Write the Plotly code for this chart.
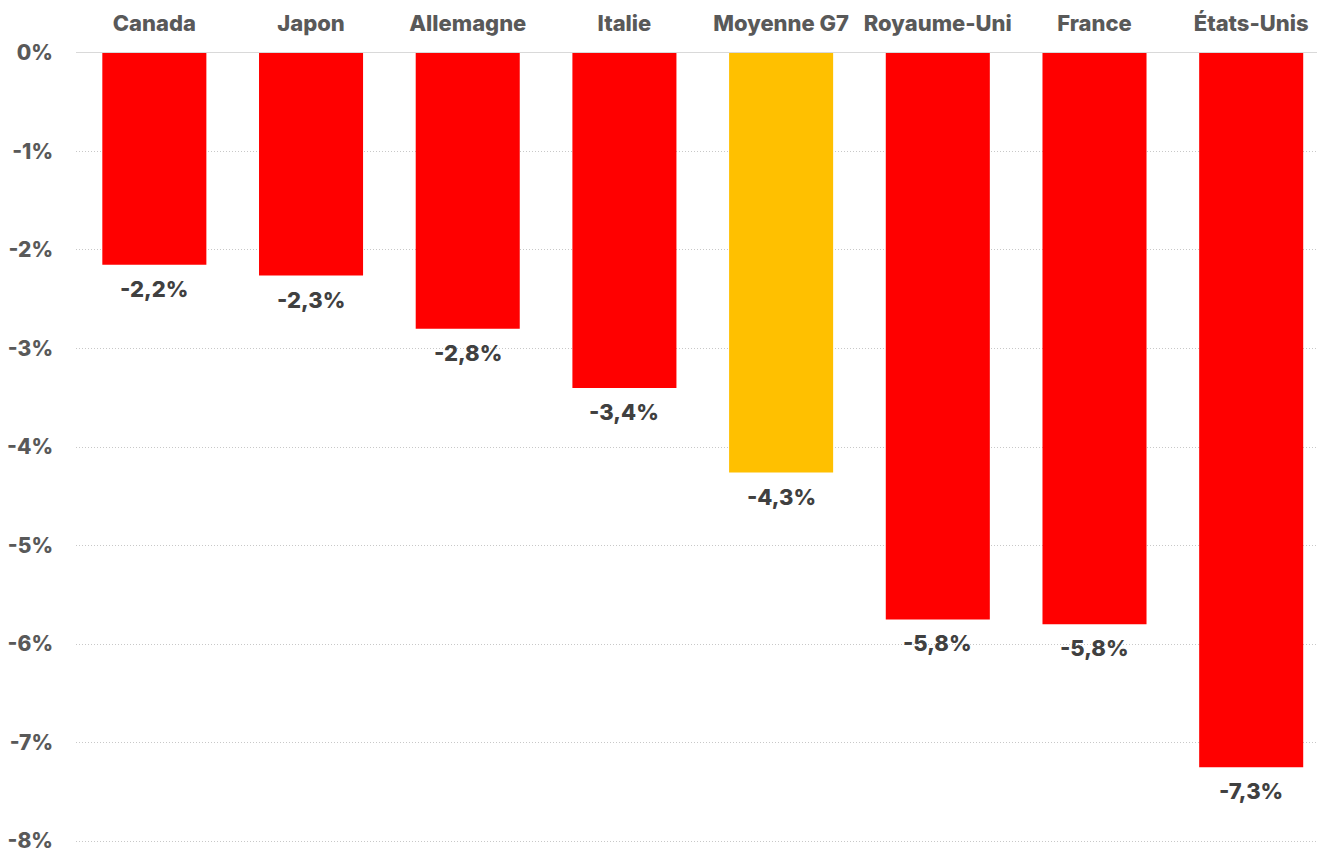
import plotly.graph_objects as go

categories = ["Canada", "Japon", "Allemagne", "Italie", "Moyenne G7", "Royaume-Uni", "France", "États-Unis"]
values = [-2.15, -2.26, -2.80, -3.40, -4.26, -5.75, -5.80, -7.25]
value_labels = ["-2,2%", "-2,3%", "-2,8%", "-3,4%", "-4,3%", "-5,8%", "-5,8%", "-7,3%"]
colors = ["#FF0000", "#FF0000", "#FF0000", "#FF0000", "#FFC000", "#FF0000", "#FF0000", "#FF0000"]
tick_vals = [0, -1, -2, -3, -4, -5, -6, -7, -8]
tick_text = ["0%", "-1%", "-2%", "-3%", "-4%", "-5%", "-6%", "-7%", "-8%"]

FONT = "Inter"

fig = go.Figure()
fig.add_trace(go.Bar(
    x=list(range(len(categories))),
    y=values,
    marker=dict(color=colors, line=dict(width=0)),
    width=0.664,
    hoverinfo="skip",
))

for i, (v, lab) in enumerate(zip(values, value_labels)):
    fig.add_annotation(
        x=i, y=v, text=lab, showarrow=False,
        yanchor="top", yshift=-9,
        font=dict(family=FONT, size=22, color="#404040", weight=800),
    )

fig.update_layout(
    width=1317, height=849,
    margin=dict(l=76, r=0, t=51, b=6),
    paper_bgcolor="white", plot_bgcolor="white",
    showlegend=False,
    font=dict(family=FONT),
    xaxis=dict(
        side="top",
        tickmode="array",
        tickvals=list(range(len(categories))),
        ticktext=categories,
        tickfont=dict(family=FONT, size=22, color="#595959", weight=800),
        range=[-0.5, 7.42],
        showgrid=False, zeroline=False, showline=False,
        ticks="", ticklabelstandoff=15,
        automargin=False,
        fixedrange=True,
    ),
    yaxis=dict(
        range=[-8.02, 0.02],
        tickmode="array",
        tickvals=tick_vals,
        ticktext=tick_text,
        tickfont=dict(family=FONT, size=21, color="#595959", weight=800),
        showgrid=True, gridcolor="#C8C8C8", griddash="1px,2px", gridwidth=1,
        zeroline=True, zerolinecolor="#D9D9D9", zerolinewidth=1,
        showline=False, ticks="", ticklabelstandoff=22,
        ticklabeloverflow="allow",
        automargin=False,
        fixedrange=True,
    ),
)

fig.write_html("out.html")
